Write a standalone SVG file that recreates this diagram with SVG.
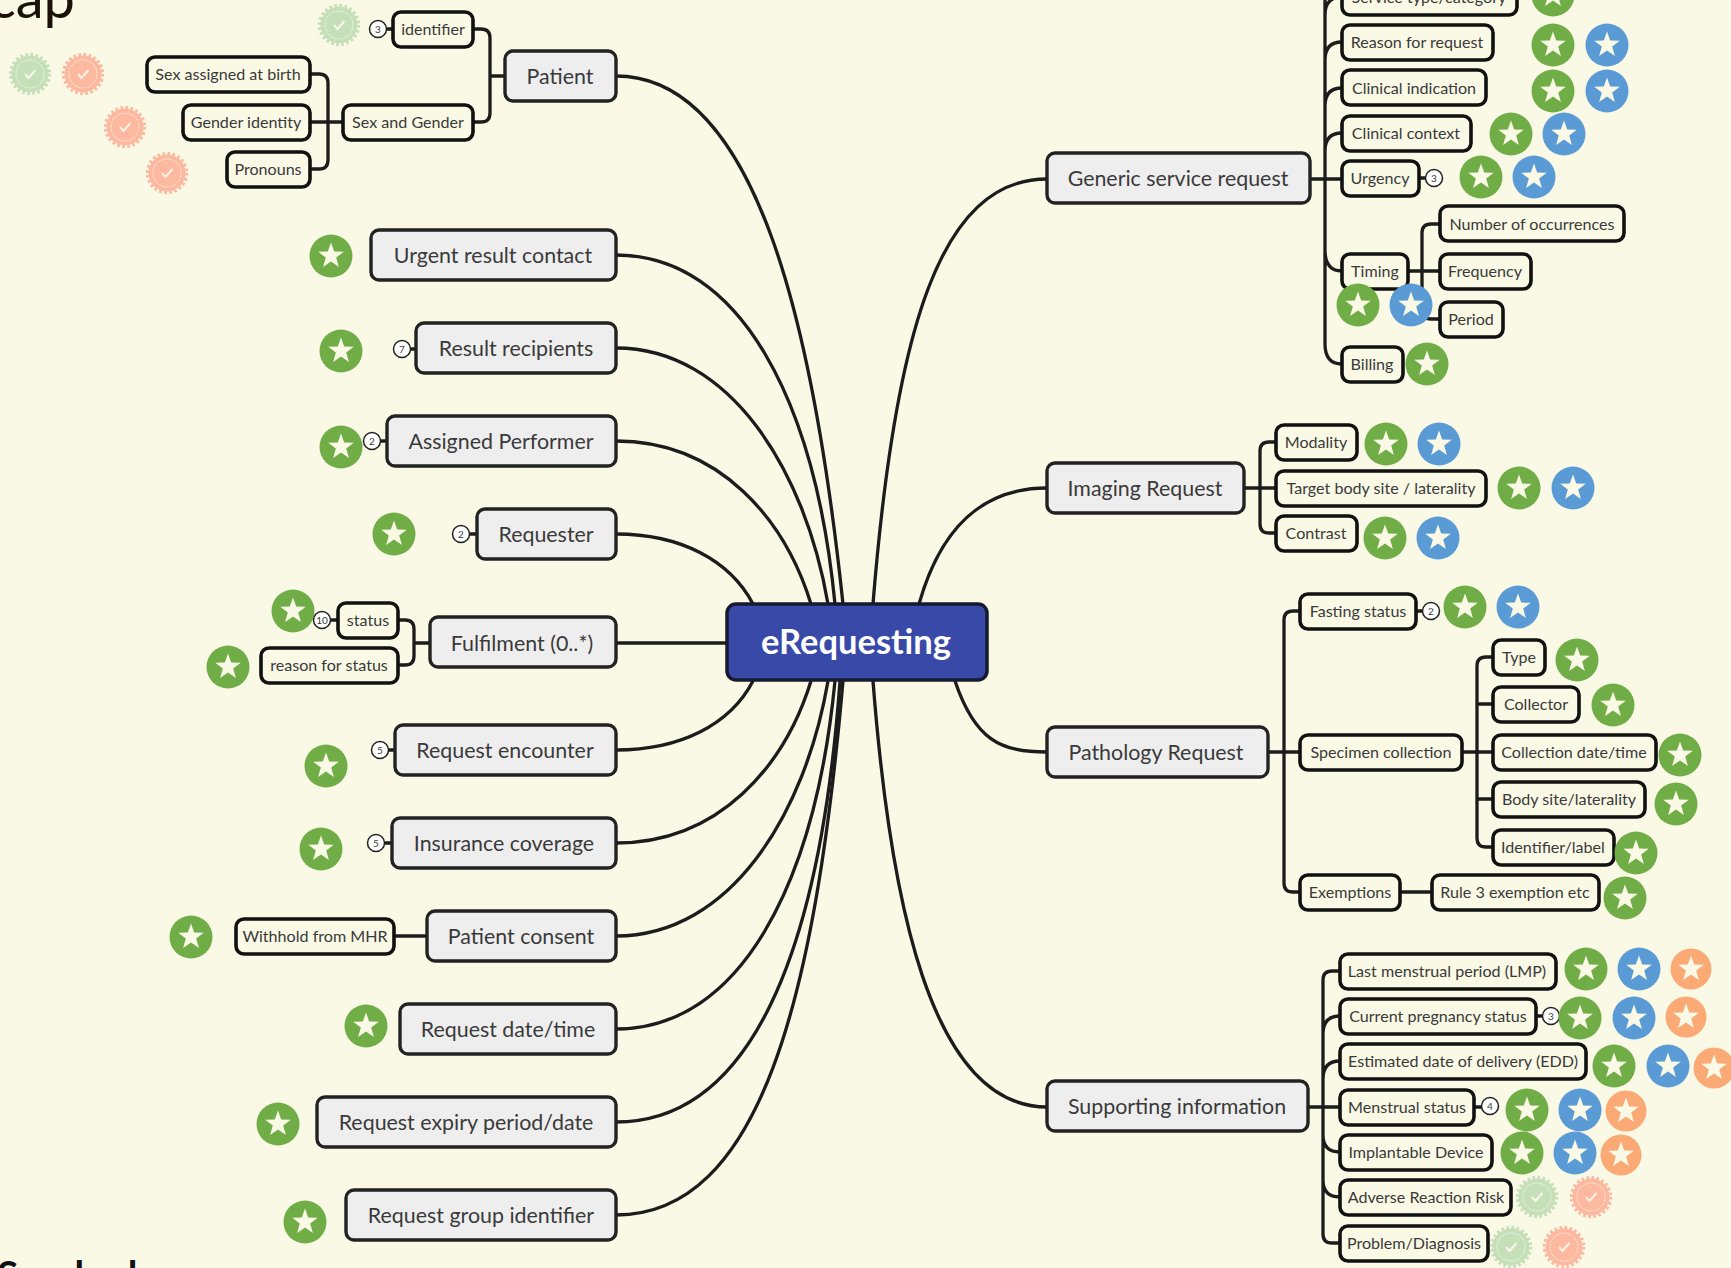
<svg xmlns="http://www.w3.org/2000/svg" width="1731" height="1268" viewBox="0 0 1731 1268">
<style>
text{font-family:"Lato","Liberation Sans",sans-serif;dominant-baseline:central;text-anchor:middle;fill:#3a3a3a;transform:translateY(-0.5px)}
.n rect{fill:#eeeeee;stroke:#222;stroke-width:3.4}
.n text{font-size:21.4px}
.c rect{fill:#f9f9e5;stroke:#111;stroke-width:3.6}
.c text{font-size:16.1px}
.b circle{fill:#fff;stroke:#222;stroke-width:1.5}
.b text{font-size:10px}
#connectors path{fill:none;stroke:#1c1c1c;stroke-width:3.3}
</style>
<defs>
<polygon id="st" fill="#f9f9e5" points="0,-13.5 3.2,-4.4 12.8,-4.2 5.2,1.6 7.9,10.9 0,5.4 -7.9,10.9 -5.2,1.6 -12.8,-4.2 -3.2,-4.4"/>
<g id="sg"><circle r="21.5" fill="#70ad47"/><use href="#st"/></g>
<g id="sb"><circle r="21.5" fill="#5b9bd5"/><use href="#st"/></g>
<g id="so"><circle r="20.5" fill="#fbaa76"/><use href="#st"/></g>
<g id="kg"><circle r="18.5" fill="#c5dfb8"/><circle r="19.5" fill="none" stroke="#c5dfb8" stroke-width="3.4" stroke-dasharray="2.6 2.5"/><circle r="14" fill="none" stroke="#f5f8ea" stroke-width="0.9" stroke-dasharray="2 1"/><polyline points="-5,0 -1.5,4 5.5,-4" fill="none" stroke="#f5f8ea" stroke-width="2"/></g>
<g id="ko"><circle r="18.5" fill="#fdb8a0"/><circle r="19.5" fill="none" stroke="#fdb8a0" stroke-width="3.4" stroke-dasharray="2.6 2.5"/><circle r="14" fill="none" stroke="#fdf3e4" stroke-width="0.9" stroke-dasharray="2 1"/><polyline points="-5,0 -1.5,4 5.5,-4" fill="none" stroke="#fdf3e4" stroke-width="2"/></g>
</defs>
<rect width="1731" height="1268" fill="#f9f9e5"/>
<text x="75" y="-3" style="font-size:56px;text-anchor:end;fill:#1a1208">cap</text>
<text x="-3" y="1274" style="font-size:39px;font-weight:700;text-anchor:start;fill:#111">Sparked</text>

<g id="connectors">
<path d="M616,76 C760,76 815,340 843,604"/>
<path d="M616,255 C740,255 815,400 835,604"/>
<path d="M616,348 C730,348 805,470 828,604"/>
<path d="M616,441 C720,441 785,520 811,604"/>
<path d="M616,534 C680,534 730,560 753,604"/>
<path d="M616,643 H727"/>
<path d="M616,750 C680,750 730,725 753,681"/>
<path d="M616,843 C720,843 785,765 811,681"/>
<path d="M616,936 C730,936 805,815 828,681"/>
<path d="M616,1029 C740,1029 815,885 835,681"/>
<path d="M616,1122 C750,1122 820,955 840,681"/>
<path d="M616,1215 C760,1215 815,1000 843,681"/>
<path d="M1047,179 C940,179 895,330 873,604"/>
<path d="M1047,488 C980,488 940,530 919,604"/>
<path d="M1047,752 C1000,752 975,740 955,681"/>
<path d="M1047,1107 C930,1107 890,900 873,681"/>
<path d="M473,29 h8 q9,0 9,9 V113 q0,9 -9,9 h-8 M490,76 H505"/>
<path d="M310,74 h9 q9,0 9,9 V160 q0,9 -9,9 h-9 M310,122 H343"/>
<path d="M398,620 h7 q9,0 9,9 V656 q0,9 -9,9 h-7 M414,643 H429"/>
<path d="M386,29 H393 M410,349 H416 M380,441 H387 M469,534 H477 M388,750 H395 M384,843 H392 M330,620 H338 M394,936 H427"/>
<path d="M1325,-10 V344 q0,20 17,20 M1325,60 q0,-18 17,-18 M1325,106 q0,-18 17,-18 M1325,151 q0,-18 17,-18 M1325,250 q0,21 17,21 M1310,179 H1342 M1325,15 q0,-18 17,-18"/>
<path d="M1440,224 h-9 q-9,0 -9,9 V310 q0,9 9,9 h9 M1408,271 H1440 M1419,178 H1426"/>
<path d="M1276,442 h-7 q-9,0 -9,9 V524 q0,9 9,9 h7 M1244,488 H1276"/>
<path d="M1300,611 h-7 q-9,0 -9,9 V883 q0,9 9,9 h7 M1268,752 H1300 M1400,892 H1431 M1416,611 H1423"/>
<path d="M1493,657 h-7 q-9,0 -9,9 V838 q0,9 9,9 h7 M1462,752 H1493 M1477,704 H1493 M1477,799 H1493"/>
<path d="M1340,971 h-8 q-9,0 -9,9 V1234 q0,9 9,9 h8 M1323,1034 q0,-18 17,-18 M1323,1079 q0,-18 17,-18 M1308,1107 H1340 M1323,1135 q0,17 17,17 M1323,1180 q0,17 17,17 M1537,1016 H1543 M1474,1107 H1482"/>
</g>

<g id="center"><rect x="727" y="604" width="260" height="76" rx="9" fill="#3949a8" stroke="#171a30" stroke-width="3.5"/><text x="856" y="641" style="font-size:34.5px;font-weight:700;fill:#fff">eRequesting</text></g>

<g id="patient" class="n"><rect x="505" y="51" width="111" height="50" rx="8"/><text x="560" y="76">Patient</text></g>
<g id="identifier" class="c"><rect x="393" y="12" width="80" height="35" rx="8"/><text x="433" y="29">identifier</text><g class="b"><circle cx="378" cy="29" r="8.5"/><text x="378" y="29">3</text></g><use href="#kg" x="339" y="25"/></g>
<g id="sex-gender" class="c"><rect x="343" y="105" width="130" height="35" rx="8"/><text x="408" y="122">Sex and Gender</text></g>
<g id="sex-birth" class="c"><rect x="147" y="57" width="163" height="35" rx="8"/><text x="228" y="74">Sex assigned at birth</text><use href="#kg" x="30" y="74"/><use href="#ko" x="83" y="74"/></g>
<g id="gender-identity" class="c"><rect x="183" y="105" width="127" height="35" rx="8"/><text x="246" y="122">Gender identity</text><use href="#ko" x="125" y="127"/></g>
<g id="pronouns" class="c"><rect x="227" y="152" width="83" height="35" rx="8"/><text x="268" y="169">Pronouns</text><use href="#ko" x="167" y="173"/></g>

<g id="urgent-result" class="n"><rect x="371" y="230" width="245" height="50" rx="8"/><text x="493" y="255">Urgent result contact</text><use href="#sg" x="331" y="256"/></g>
<g id="result-recipients" class="n"><rect x="416" y="323" width="200" height="50" rx="8"/><text x="516" y="348">Result recipients</text><use href="#sg" x="341" y="351"/><g class="b"><circle cx="402" cy="349" r="8.5"/><text x="402" y="349">7</text></g></g>
<g id="assigned-performer" class="n"><rect x="387" y="416" width="229" height="50" rx="8"/><text x="501" y="441">Assigned Performer</text><use href="#sg" x="341" y="447"/><g class="b"><circle cx="372" cy="441" r="8.5"/><text x="372" y="441">2</text></g></g>
<g id="requester" class="n"><rect x="477" y="509" width="139" height="50" rx="8"/><text x="546" y="534">Requester</text><use href="#sg" x="394" y="534"/><g class="b"><circle cx="461" cy="534" r="8.5"/><text x="461" y="534">2</text></g></g>
<g id="fulfilment" class="n"><rect x="430" y="617" width="186" height="50" rx="8"/><text x="522" y="643">Fulfilment (0..*)</text></g>
<g id="status" class="c"><rect x="338" y="603" width="60" height="35" rx="8"/><text x="368" y="620">status</text><use href="#sg" x="293" y="611"/><g class="b"><circle cx="322" cy="620" r="8.5"/><text x="322" y="620">10</text></g></g>
<g id="reason-status" class="c"><rect x="261" y="648" width="137" height="35" rx="8"/><text x="329" y="665">reason for status</text><use href="#sg" x="228" y="667"/></g>
<g id="request-encounter" class="n"><rect x="395" y="725" width="221" height="50" rx="8"/><text x="505" y="750">Request encounter</text><use href="#sg" x="326" y="766"/><g class="b"><circle cx="380" cy="750" r="8.5"/><text x="380" y="750">5</text></g></g>
<g id="insurance" class="n"><rect x="392" y="818" width="224" height="50" rx="8"/><text x="504" y="843">Insurance coverage</text><use href="#sg" x="321" y="849"/><g class="b"><circle cx="376" cy="843" r="8.5"/><text x="376" y="843">5</text></g></g>
<g id="patient-consent" class="n"><rect x="427" y="911" width="189" height="50" rx="8"/><text x="521" y="936">Patient consent</text></g>
<g id="withhold" class="c"><rect x="236" y="919" width="158" height="35" rx="8"/><text x="315" y="936">Withhold from MHR</text><use href="#sg" x="191" y="937"/></g>
<g id="request-date" class="n"><rect x="400" y="1004" width="216" height="50" rx="8"/><text x="508" y="1029">Request date/time</text><use href="#sg" x="366" y="1026"/></g>
<g id="request-expiry" class="n"><rect x="317" y="1097" width="299" height="50" rx="8"/><text x="466" y="1122">Request expiry period/date</text><use href="#sg" x="278" y="1124"/></g>
<g id="request-group" class="n"><rect x="346" y="1190" width="270" height="50" rx="8"/><text x="481" y="1215">Request group identifier</text><use href="#sg" x="305" y="1222"/></g>

<g id="generic" class="n"><rect x="1047" y="153" width="263" height="50" rx="8"/><text x="1178" y="178">Generic service request</text></g>
<g id="service-type" class="c"><rect x="1342" y="-20" width="175" height="35" rx="8"/><text x="1429" y="-3">Service type/category</text><use href="#sg" x="1553" y="-5"/></g>
<g id="reason" class="c"><rect x="1342" y="25" width="151" height="35" rx="8"/><text x="1417" y="42">Reason for request</text><use href="#sg" x="1553" y="45"/><use href="#sb" x="1607" y="45"/></g>
<g id="indication" class="c"><rect x="1342" y="70" width="144" height="35" rx="8"/><text x="1414" y="88">Clinical indication</text><use href="#sg" x="1553" y="91"/><use href="#sb" x="1607" y="91"/></g>
<g id="context" class="c"><rect x="1342" y="116" width="129" height="35" rx="8"/><text x="1406" y="133">Clinical context</text><use href="#sg" x="1511" y="134"/><use href="#sb" x="1564" y="134"/></g>
<g id="urgency" class="c"><rect x="1342" y="161" width="77" height="35" rx="8"/><text x="1380" y="178">Urgency</text><g class="b"><circle cx="1434" cy="178" r="8.5"/><text x="1434" y="178">3</text></g><use href="#sg" x="1481" y="177"/><use href="#sb" x="1534" y="177"/></g>
<g id="timing" class="c"><rect x="1342" y="254" width="66" height="35" rx="8"/><text x="1375" y="271">Timing</text></g>
<g id="occurrences" class="c"><rect x="1440" y="206" width="184" height="35" rx="8"/><text x="1532" y="224">Number of occurrences</text></g>
<g id="frequency" class="c"><rect x="1440" y="254" width="91" height="35" rx="8"/><text x="1485" y="271">Frequency</text></g>
<g id="period" class="c"><rect x="1440" y="302" width="63" height="35" rx="8"/><text x="1471" y="319">Period</text></g>
<g id="timing-marks"><use href="#sg" x="1358" y="305"/><use href="#sb" x="1411" y="305"/></g>
<g id="billing" class="c"><rect x="1342" y="347" width="61" height="35" rx="8"/><text x="1372" y="364">Billing</text><use href="#sg" x="1427" y="364"/></g>

<g id="imaging" class="n"><rect x="1047" y="463" width="197" height="50" rx="8"/><text x="1145" y="488">Imaging Request</text></g>
<g id="modality" class="c"><rect x="1276" y="425" width="81" height="35" rx="8"/><text x="1316" y="442">Modality</text><use href="#sg" x="1386" y="444"/><use href="#sb" x="1439" y="444"/></g>
<g id="target" class="c"><rect x="1276" y="471" width="210" height="35" rx="8"/><text x="1381" y="488">Target body site / laterality</text><use href="#sg" x="1519" y="488"/><use href="#sb" x="1573" y="488"/></g>
<g id="contrast" class="c"><rect x="1276" y="516" width="81" height="35" rx="8"/><text x="1316" y="533">Contrast</text><use href="#sg" x="1385" y="538"/><use href="#sb" x="1438" y="538"/></g>

<g id="pathology" class="n"><rect x="1047" y="727" width="221" height="50" rx="8"/><text x="1156" y="752">Pathology Request</text></g>
<g id="fasting" class="c"><rect x="1300" y="594" width="116" height="35" rx="8"/><text x="1358" y="611">Fasting status</text><g class="b"><circle cx="1431" cy="611" r="8.5"/><text x="1431" y="611">2</text></g><use href="#sg" x="1465" y="607"/><use href="#sb" x="1518" y="607"/></g>
<g id="specimen" class="c"><rect x="1300" y="735" width="162" height="35" rx="8"/><text x="1381" y="752">Specimen collection</text></g>
<g id="type" class="c"><rect x="1493" y="640" width="52" height="35" rx="8"/><text x="1519" y="657">Type</text><use href="#sg" x="1577" y="660"/></g>
<g id="collector" class="c"><rect x="1493" y="687" width="86" height="35" rx="8"/><text x="1536" y="704">Collector</text><use href="#sg" x="1613" y="705"/></g>
<g id="collection-date" class="c"><rect x="1493" y="735" width="163" height="35" rx="8"/><text x="1574" y="752">Collection date/time</text><use href="#sg" x="1680" y="755"/></g>
<g id="body-site" class="c"><rect x="1493" y="782" width="152" height="35" rx="8"/><text x="1569" y="799">Body site/laterality</text><use href="#sg" x="1676" y="804"/></g>
<g id="identifier-label" class="c"><rect x="1493" y="830" width="121" height="35" rx="8"/><text x="1553" y="847">Identifier/label</text><use href="#sg" x="1636" y="853"/></g>
<g id="exemptions" class="c"><rect x="1300" y="875" width="100" height="35" rx="8"/><text x="1350" y="892">Exemptions</text></g>
<g id="rule3" class="c"><rect x="1432" y="875" width="167" height="35" rx="8"/><text x="1515" y="892">Rule 3 exemption etc</text><use href="#sg" x="1625" y="898"/></g>

<g id="supporting" class="n"><rect x="1047" y="1081" width="261" height="50" rx="8"/><text x="1177" y="1106">Supporting information</text></g>
<g id="lmp" class="c"><rect x="1340" y="954" width="216" height="35" rx="8"/><text x="1447" y="971">Last menstrual period (LMP)</text><use href="#sg" x="1586" y="969"/><use href="#sb" x="1639" y="969"/><use href="#so" x="1691" y="969"/></g>
<g id="pregnancy" class="c"><rect x="1340" y="999" width="196" height="35" rx="8"/><text x="1438" y="1016">Current pregnancy status</text><g class="b"><circle cx="1551" cy="1016" r="8.5"/><text x="1551" y="1016">3</text></g><use href="#sg" x="1580" y="1018"/><use href="#sb" x="1634" y="1018"/><use href="#so" x="1686" y="1017"/></g>
<g id="edd" class="c"><rect x="1340" y="1044" width="246" height="35" rx="8"/><text x="1463" y="1061">Estimated date of delivery (EDD)</text><use href="#sg" x="1614" y="1066"/><use href="#sb" x="1668" y="1066"/><use href="#so" x="1714" y="1068"/></g>
<g id="menstrual" class="c"><rect x="1340" y="1090" width="134" height="35" rx="8"/><text x="1407" y="1107">Menstrual status</text><g class="b"><circle cx="1490" cy="1106" r="8.5"/><text x="1490" y="1106">4</text></g><use href="#sg" x="1527" y="1110"/><use href="#sb" x="1580" y="1110"/><use href="#so" x="1626" y="1111"/></g>
<g id="implantable" class="c"><rect x="1340" y="1135" width="152" height="35" rx="8"/><text x="1416" y="1152">Implantable Device</text><use href="#sg" x="1522" y="1153"/><use href="#sb" x="1575" y="1153"/><use href="#so" x="1621" y="1155"/></g>
<g id="adverse" class="c"><rect x="1340" y="1180" width="171" height="35" rx="8"/><text x="1426" y="1197">Adverse Reaction Risk</text><use href="#kg" x="1537" y="1197"/><use href="#ko" x="1591" y="1197"/></g>
<g id="problem" class="c"><rect x="1340" y="1226" width="148" height="35" rx="8"/><text x="1414" y="1243">Problem/Diagnosis</text><use href="#kg" x="1511" y="1247"/><use href="#ko" x="1564" y="1247"/></g>
</svg>
